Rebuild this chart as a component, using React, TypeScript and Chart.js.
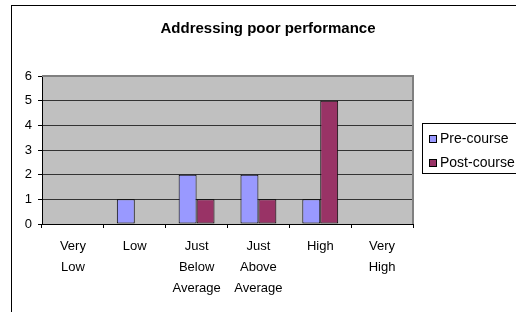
import React, { useEffect, useRef } from "react";
import { Chart, registerables } from "chart.js";

Chart.register(...registerables);

const chartTitle = "Addressing poor performance";
const categories: string[][] = [
  ["Very", "Low"],
  ["Low"],
  ["Just", "Below", "Average"],
  ["Just", "Above", "Average"],
  ["High"],
  ["Very", "High"],
];
const preCourse = [0, 1, 2, 2, 1, 0];
const postCourse = [0, 0, 1, 1, 5, 0];
const yMin = 0;
const yMax = 6;
const yStep = 1;

const FONT = "'Liberation Sans', Arial, sans-serif";

const decorPlugin = {
  id: "decor",
  beforeDraw(chart: any) {
    const { ctx, chartArea: a, width, height } = chart;
    ctx.save();
    ctx.fillStyle = "#ffffff";
    ctx.fillRect(0, 0, width, height);
    // outer frame
    ctx.strokeStyle = "#000000";
    ctx.lineWidth = 1;
    ctx.strokeRect(11.5, 5.5, width + 20, height + 20);
    // plot background
    ctx.fillStyle = "#C0C0C0";
    ctx.fillRect(a.left, a.top, a.right - a.left, a.bottom - a.top);
    ctx.restore();
  },
  afterDatasetsDraw(chart: any) {
    const { ctx, chartArea: a } = chart;
    ctx.save();
    // plot border (top & right, gray)
    ctx.strokeStyle = "#808080";
    ctx.lineWidth = 2;
    ctx.beginPath();
    ctx.moveTo(a.left, a.top);
    ctx.lineTo(a.right, a.top);
    ctx.lineTo(a.right, a.bottom);
    ctx.stroke();
    // title
    ctx.fillStyle = "#000000";
    ctx.font = `bold 15px ${FONT}`;
    ctx.textAlign = "center";
    ctx.textBaseline = "middle";
    ctx.fillText(chartTitle, 268, 29);
    // legend
    ctx.strokeStyle = "#000000";
    ctx.lineWidth = 1;
    ctx.strokeRect(422.5, 123.5, 120, 50);
    ctx.font = `14px ${FONT}`;
    ctx.textAlign = "left";
    chart.data.datasets.forEach((ds: any, i: number) => {
      const cy = 139 + i * 24;
      ctx.fillStyle = ds.backgroundColor;
      ctx.fillRect(429, cy - 4, 8, 8);
      ctx.strokeRect(429.5, cy - 3.5, 7, 7);
      ctx.fillStyle = "#000000";
      ctx.fillText(ds.label, 440, cy);
    });
    ctx.restore();
  },
};

export default function App() {
  const ref = useRef<HTMLCanvasElement | null>(null);
  useEffect(() => {
    if (!ref.current) return;
    const chart = new Chart(ref.current, {
      type: "bar",
      data: {
        labels: categories,
        datasets: [
          {
            label: "Pre-course",
            data: preCourse,
            backgroundColor: "#9999FF",
            borderColor: "#000000",
            borderWidth: 1,
            borderSkipped: false,
            categoryPercentage: 0.58,
            barPercentage: 1,
          },
          {
            label: "Post-course",
            data: postCourse,
            backgroundColor: "#993366",
            borderColor: "#000000",
            borderWidth: 1,
            borderSkipped: false,
            categoryPercentage: 0.58,
            barPercentage: 1,
          },
        ],
      },
      options: {
        responsive: false,
        animation: false,
        events: [],
        layout: { padding: { left: 12, top: 76, right: 103, bottom: 8 } },
        plugins: {
          legend: { display: false },
          title: { display: false },
          tooltip: { enabled: false },
        },
        scales: {
          x: {
            afterFit(scale: any) {
              scale.height = 80;
            },
            grid: {
              drawOnChartArea: false,
              drawTicks: true,
              tickLength: 4,
              color: "#000000",
              offset: true,
            },
            border: { color: "#000000", width: 1 },
            ticks: {
              color: "#000000",
              font: { family: FONT, size: 13, lineHeight: 21 / 13 },
              padding: 8,
              maxRotation: 0,
              autoSkip: false,
            },
          },
          y: {
            min: yMin,
            max: yMax,
            afterFit(scale: any) {
              scale.width = 30;
            },
            grid: {
              color: (c: any) => (c.tick && c.tick.value === yMax ? "rgba(0,0,0,0)" : "#333333"),
              tickColor: "#000000",
              tickLength: 4,
            },
            border: { color: "#000000", width: 1 },
            ticks: {
              stepSize: yStep,
              color: "#000000",
              font: { family: FONT, size: 13 },
              padding: 6,
            },
          },
        },
      },
      plugins: [decorPlugin],
    } as any);
    return () => chart.destroy();
  }, []);
  return (
    <div style={{ position: "fixed", left: 0, top: 0, width: 516, height: 312, background: "#fff" }}>
      <canvas ref={ref} width={516} height={312} style={{ display: "block" }} />
    </div>
  );
}
